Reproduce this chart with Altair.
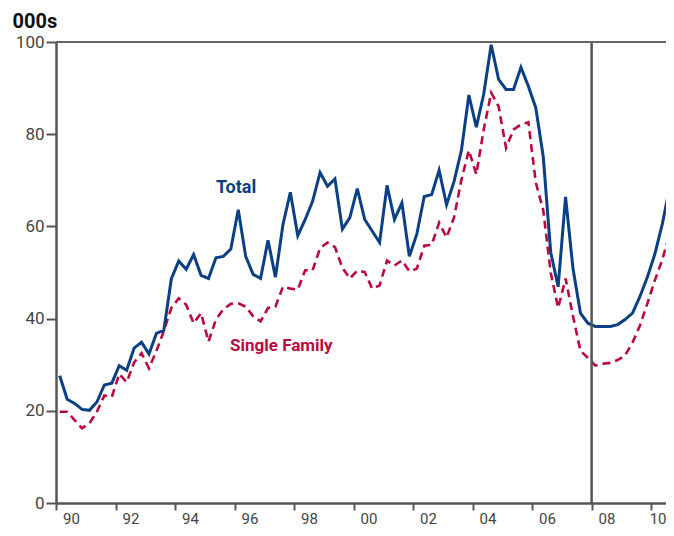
import altair as alt
import pandas as pd

# Quarterly data, 1990Q1 .. 2010Q4 (thousands, annual rate)
start_year = 1990
total = [27.6, 22.5, 21.6, 20.3, 20.1, 21.9, 25.6, 26.0, 29.8, 28.8,
         33.6, 34.9, 32.3, 36.8, 37.5, 48.6, 52.5, 50.7, 53.9, 49.4,
         48.7, 53.2, 53.5, 55.1, 63.6, 53.5, 49.6, 48.7, 57.0, 49.0,
         60.3, 67.4, 58.0, 61.5, 65.5, 71.7, 68.7, 70.3, 59.4, 61.9,
         68.2, 61.5, 59.0, 56.5, 68.9, 61.5, 65.1, 53.5, 58.3, 66.5,
         66.9, 72.2, 64.7, 69.7, 76.5, 88.5, 81.5, 88.7, 99.4, 91.9,
         89.7, 89.7, 94.5, 90.4, 85.7, 75.1, 54.4, 46.9, 66.4, 50.8,
         41.2, 39.0, 38.3, 38.3, 38.3, 38.7, 39.8, 41.2, 44.8, 49.0,
         54.0, 60.5, 68.5, 72.0]
single_family = [19.8, 19.8, 18.0, 16.2, 17.3, 19.8, 23.3, 23.0, 28.0, 26.2,
                 30.5, 32.5, 29.2, 33.0, 37.3, 42.3, 44.4, 43.0, 39.0, 41.2,
                 35.0, 39.8, 42.0, 43.2, 43.3, 42.6, 40.5, 39.4, 42.3, 42.6,
                 46.9, 46.5, 46.3, 50.5, 50.5, 55.3, 56.5, 55.5, 51.0, 48.7,
                 50.4, 50.1, 46.5, 47.2, 52.6, 51.5, 52.6, 50.3, 50.8, 55.8,
                 56.0, 60.8, 57.6, 61.9, 70.1, 76.5, 71.3, 81.0, 89.0, 86.0,
                 77.0, 81.0, 82.1, 82.6, 69.5, 63.5, 50.0, 42.3, 48.7, 40.5,
                 33.0, 31.5, 29.8, 30.2, 30.4, 31.0, 32.0, 34.8, 38.5, 43.3,
                 48.3, 52.8, 58.5, 62.0]
year_ticks = list(range(1990, 2011))
y_ticks = [0, 20, 40, 60, 80, 100]
marker_year = [2008]
label_text = ["Total", "Single Family"]
label_x = [1996.05, 1995.85]
label_y = [68.3, 34.0]

quarters = [start_year + (q + 0.5) / 4 for q in range(len(total))]
df = pd.DataFrame({"t": quarters, "total": total, "single": single_family})

W, H = 610, 461
FONT = "Roboto"
BLUE = "#0b3f86"
RED = "#bb0a3f"

xscale = alt.Scale(domain=[1990, 2010.5], nice=False, zero=False)
yscale = alt.Scale(domain=[0, 100], nice=False)

xaxis = alt.Axis(values=year_ticks, labelExpr="datum.value % 2 == 0 ? slice(toString(datum.value), 2) : ''",
                 labelOffset=14.9, tickSize=7, labelPadding=1, labelOverlap=False, labelBound=False,
                 labelFlush=False, grid=False, title=None, labelFontSize=15, labelColor="#444",
                 labelFont=FONT, domainColor="#555", domainWidth=2.5, tickColor="#555", tickWidth=2,
                 labelBaseline="top",
                 labelAlign={"condition": {"test": "datum.value == 2010", "value": "right"}, "value": "center"})
yaxis = alt.Axis(values=y_ticks, tickSize=10, labelPadding=2, grid=False, title="000s",
                 titleAngle=0, titleX=-44, titleY=-15, titleAlign="left", titleBaseline="alphabetic",
                 titleFontSize=20, titleFontWeight="bold", titleColor="#111", titleFont=FONT,
                 labelFontSize=17, labelColor="#444", labelFont=FONT, domainColor="#555",
                 domainWidth=2.5, tickColor="#555", tickWidth=2)

base = alt.Chart(df)

sf_line = base.mark_line(color=RED, strokeWidth=2.6, strokeDash=[8, 5], clip=True).encode(
    x=alt.X("t:Q", scale=xscale, axis=xaxis),
    y=alt.Y("single:Q", scale=yscale, axis=yaxis),
)
tot_line = base.mark_line(color=BLUE, strokeWidth=3, clip=True).encode(
    x=alt.X("t:Q", scale=xscale),
    y=alt.Y("total:Q", scale=yscale),
)

rule = alt.Chart(pd.DataFrame({"yr": marker_year})).mark_rule(color="#555", strokeWidth=2.5).encode(
    x=alt.X("yr:Q", scale=xscale)
)
top_border = alt.Chart(pd.DataFrame({"v": [100]})).mark_rule(color="#666", strokeWidth=2).encode(
    y=alt.Y("v:Q", scale=yscale)
)

labels_df = pd.DataFrame({"text": label_text, "x": label_x, "y": label_y})
lab_total = alt.Chart(labels_df.iloc[[0]]).mark_text(
    font=FONT, fontSize=18, fontWeight="bold", color=BLUE, align="center", baseline="middle"
).encode(x=alt.X("x:Q", scale=xscale), y=alt.Y("y:Q", scale=yscale), text="text:N")
lab_sf = alt.Chart(labels_df.iloc[[1]]).mark_text(
    font=FONT, fontSize=17, fontWeight="bold", color=RED, align="left", baseline="middle"
).encode(x=alt.X("x:Q", scale=xscale), y=alt.Y("y:Q", scale=yscale), text="text:N")

chart = alt.layer(sf_line, tot_line, rule, top_border, lab_total, lab_sf).properties(
    width=W, height=H,
    autosize=alt.AutoSizeParams(type="none"),
    padding={"left": 48, "top": 34, "right": 0, "bottom": 25},
).configure_view(fill="#c0c0c0", stroke=None).configure(background="white")

chart.save("out.html", embed_options={"renderer": "svg", "actions": False})
